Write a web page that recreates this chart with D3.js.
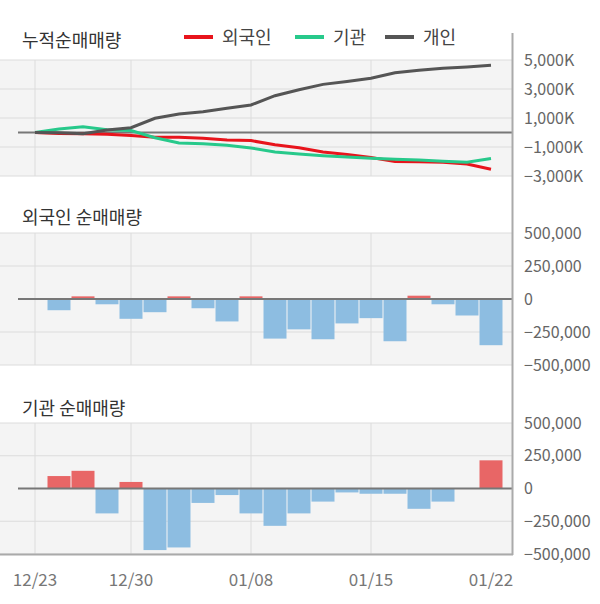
<!DOCTYPE html>
<html>
<head>
<meta charset="utf-8">
<script src="https://cdn.jsdelivr.net/npm/d3@7"></script>
<style>
  body { margin: 0; background: #fff; }
  text { font-family: "Noto Sans CJK KR", "Noto Sans", sans-serif; }
</style>
</head>
<body>
<svg id="chart" width="600" height="604"></svg>
<script>
var dates = ["12/23","12/24","12/26","12/27","12/30","01/02","01/03","01/06","01/07","01/08",
             "01/09","01/10","01/13","01/14","01/15","01/16","01/17","01/20","01/21","01/22"];
var tickDates = ["12/23","12/30","01/08","01/15","01/22"];
var gridDates = ["12/23","12/30","01/08","01/15"];

// cumulative net buying, thousands of shares
var foreignCum = [0, -70, -80, -120, -210, -320, -330, -400, -520, -560, -840, -1050, -1350, -1520, -1720, -2000, -2020, -2050, -2180, -2530];
var instCum = [0, 240, 400, 190, 140, -360, -730, -770, -880, -1070, -1340, -1480, -1600, -1690, -1780, -1850, -1900, -1990, -2050, -1800];
var indivCum = [0, -20, -80, 170, 330, 980, 1280, 1430, 1670, 1900, 2540, 2950, 3320, 3520, 3740, 4120, 4290, 4430, 4520, 4630];

// daily net buying, shares
var foreignDaily = [null, -85000, 20000, -40000, -150000, -100000, 20000, -70000, -170000, 20000,
                    -300000, -230000, -305000, -185000, -145000, -320000, 25000, -40000, -125000, -350000];
var instDaily = [null, 95000, 135000, -190000, 50000, -470000, -450000, -110000, -50000, -190000,
                 -285000, -190000, -100000, -30000, -40000, -40000, -155000, -100000, 0, 215000];

var cumTicks = [5000, 3000, 1000, -1000, -3000];
var dailyTicks = [500000, 250000, 0, -250000, -500000];

var seriesNames = ["외국인", "기관", "개인"];
var seriesColors = ["#e8141c", "#27c98b", "#555555"];

var svg = d3.select("#chart"),
    plotLeft = 0,
    plotRight = 512,
    fmt = d3.format(",");

var x = d3.scaleBand().domain(dates).range([23, 503]).padding(0);
function cx(d) { return x(d) + x.bandwidth() / 2; }

function drawFrame(y, ticks, labelFmt, title, titleY) {
  var top = y.range()[1], bottom = y.range()[0];

  svg.append("rect")
      .attr("x", plotLeft).attr("y", top)
      .attr("width", plotRight - plotLeft).attr("height", bottom - top)
      .attr("fill", "#f4f4f4");

  // horizontal grid
  svg.append("g").selectAll("line")
      .data(ticks.filter(function(t) { return t !== 0; }))
      .enter().append("line")
      .attr("x1", plotLeft).attr("x2", plotRight)
      .attr("y1", function(d) { return y(d); })
      .attr("y2", function(d) { return y(d); })
      .attr("stroke", "#dcdcdc").attr("stroke-width", 1);

  // vertical grid
  svg.append("g").selectAll("line")
      .data(gridDates)
      .enter().append("line")
      .attr("x1", cx).attr("x2", cx)
      .attr("y1", top).attr("y2", bottom)
      .attr("stroke", "#dcdcdc").attr("stroke-width", 1);

  // right axis labels
  var axis = svg.append("g")
      .attr("transform", "translate(" + (plotRight + 12) + ",0)")
      .call(d3.axisRight(y).tickValues(ticks).tickSize(0).tickFormat(labelFmt));
  axis.select(".domain").remove();
  axis.selectAll("text")
      .attr("x", 0)
      .attr("fill", "#666")
      .style("font-size", "16px")
      .style("font-family", "\"Noto Sans CJK KR\", \"Noto Sans\", sans-serif");

  svg.append("text")
      .attr("x", 22).attr("y", titleY)
      .attr("fill", "#333")
      .style("font-size", "18px")
      .text(title);
}

function zeroLine(y) {
  svg.append("line")
      .attr("x1", 18).attr("x2", plotRight)
      .attr("y1", y(0)).attr("y2", y(0))
      .attr("stroke", "#777").attr("stroke-width", 2);
}

// ---- cumulative panel
var yCum = d3.scaleLinear().domain([-3000, 5000]).range([176, 60]);
drawFrame(yCum, cumTicks, function(d) { return fmt(d) + "K"; }, "누적순매매량", 47);
zeroLine(yCum);

var line = d3.line()
    .x(function(d, i) { return cx(dates[i]); })
    .y(function(d) { return yCum(d); });

[foreignCum, instCum, indivCum].forEach(function(s, i) {
  svg.append("path")
      .datum(s)
      .attr("fill", "none")
      .attr("stroke", seriesColors[i])
      .attr("stroke-width", 3)
      .attr("d", line);
});

// legend
var legendX = [184, 295, 385];
var legend = svg.append("g").selectAll("g")
    .data(seriesNames)
    .enter().append("g")
    .attr("transform", function(d, i) { return "translate(" + legendX[i] + ",37)"; });
legend.append("line")
    .attr("x1", 0).attr("x2", 29)
    .attr("stroke", function(d, i) { return seriesColors[i]; })
    .attr("stroke-width", 4);
legend.append("text")
    .attr("x", 38).attr("y", 7)
    .attr("fill", "#444")
    .style("font-size", "18px")
    .text(function(d) { return d; });

// ---- daily bar panels
function drawBars(y, values) {
  svg.append("g").selectAll("rect")
      .data(values.map(function(v, i) { return {date: dates[i], value: v}; })
                  .filter(function(d) { return d.value; }))
      .enter().append("rect")
      .attr("x", function(d) { return x(d.date) + 0.5; })
      .attr("width", x.bandwidth() - 1)
      .attr("y", function(d) { return y(Math.max(0, d.value)); })
      .attr("height", function(d) { return Math.abs(y(d.value) - y(0)); })
      .attr("fill", function(d) { return d.value > 0 ? "#e86666" : "#8dbde1"; });
}

var yForeign = d3.scaleLinear().domain([-500000, 500000]).range([365, 233]);
drawFrame(yForeign, dailyTicks, fmt, "외국인 순매매량", 224);
drawBars(yForeign, foreignDaily);
zeroLine(yForeign);

var yInst = d3.scaleLinear().domain([-500000, 500000]).range([554, 423]);
drawFrame(yInst, dailyTicks, fmt, "기관 순매매량", 415);
drawBars(yInst, instDaily);
zeroLine(yInst);

// outer axis lines
svg.append("line")
    .attr("x1", plotRight + 0.5).attr("x2", plotRight + 0.5)
    .attr("y1", 33).attr("y2", 555)
    .attr("stroke", "#aaa").attr("stroke-width", 2);
svg.append("line")
    .attr("x1", 0).attr("x2", plotRight + 1)
    .attr("y1", 554.5).attr("y2", 554.5)
    .attr("stroke", "#aaa").attr("stroke-width", 2);

// x labels
svg.append("g").selectAll("text")
    .data(tickDates)
    .enter().append("text")
    .attr("x", cx)
    .attr("y", 586)
    .attr("text-anchor", "middle")
    .attr("fill", "#777")
    .style("font-size", "17px")
    .text(function(d) { return d; });
</script>
</body>
</html>
